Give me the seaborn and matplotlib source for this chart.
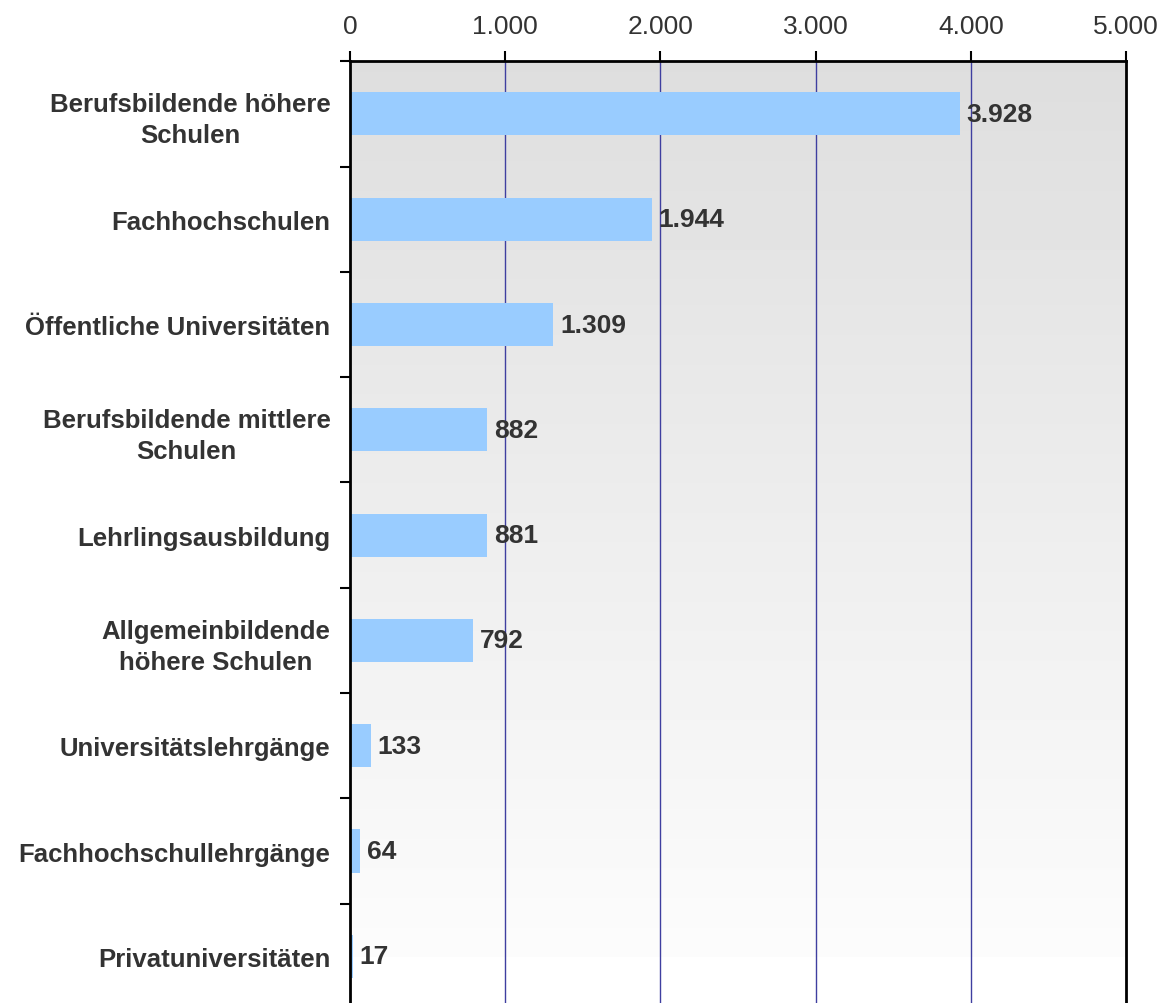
import numpy as np
import matplotlib
matplotlib.use("Agg")
import matplotlib.pyplot as plt
from matplotlib.ticker import FuncFormatter, FixedLocator
import seaborn as sns

# Daten
kategorien = [
    "Berufsbildende höhere\nSchulen",
    "Fachhochschulen",
    "Öffentliche Universitäten",
    "Berufsbildende mittlere\nSchulen",
    "Lehrlingsausbildung",
    "Allgemeinbildende\nhöhere Schulen",
    "Universitätslehrgänge",
    "Fachhochschullehrgänge",
    "Privatuniversitäten",
]
werte = [3928, 1944, 1309, 882, 881, 792, 133, 64, 17]
x_ticks = [0, 1000, 2000, 3000, 4000, 5000]


def de_format(v, pos=None):
    return f"{int(v):,}".replace(",", ".")


sns.set_theme(style="white")
plt.rcParams["font.family"] = ["Liberation Sans", "DejaVu Sans"]

fig = plt.figure(figsize=(11.68, 10.04), dpi=100)
ax = fig.add_axes([0.2997, -0.006, 0.6644, 0.944])

# Hintergrund mit Verlauf (grau oben, weiss unten)
verlauf = np.linspace(0.87, 0.995, 256).reshape(-1, 1)
verlauf[-14:] = 1.0
ax.imshow(verlauf, cmap="gray", vmin=0, vmax=1, aspect="auto",
          extent=[0, 1, 0, 1], transform=ax.transAxes, zorder=0,
          origin="upper", interpolation="nearest")

sns.barplot(x=werte, y=kategorien, orient="h", color="#99CCFF",
            saturation=1, width=0.41, linewidth=0, edgecolor="none",
            ax=ax, zorder=2)

ax.set_xlim(0, 5000)
ax.set_ylim(len(kategorien) - 0.5, -0.5)

# Gitterlinien
for t in x_ticks[1:-1]:
    ax.axvline(t, color="#3F3FA0", lw=1.0, zorder=1)

# Achse oben
ax.xaxis.tick_top()
ax.xaxis.set_major_locator(FixedLocator(x_ticks))
ax.xaxis.set_major_formatter(FuncFormatter(de_format))
ax.tick_params(axis="x", which="major", direction="out", length=7, width=1.5,
               color="black", labelsize=19, labelcolor="#333333", pad=10,
               top=True, bottom=False)

# y-Achse: Ticks zwischen den Kategorien
ax.set_yticks(np.arange(len(kategorien) + 1) - 0.5, minor=True)
ax.tick_params(axis="y", which="minor", direction="out", length=7, width=1.5,
               color="black", left=True)
ax.tick_params(axis="y", which="major", length=0, pad=14, left=False)
for lbl in ax.get_yticklabels():
    lbl.set_fontsize(18.5)
    lbl.set_fontweight("bold")
    lbl.set_color("#333333")
    lbl.set_multialignment("center")
    lbl.set_linespacing(1.35)

ax.set_xlabel("")
ax.set_ylabel("")

for side in ["left", "top", "right"]:
    ax.spines[side].set_visible(True)
    ax.spines[side].set_color("black")
    ax.spines[side].set_linewidth(2)
    ax.spines[side].set_zorder(5)
ax.spines["bottom"].set_visible(False)

# Werte an den Balken
for i, v in enumerate(werte):
    ax.annotate(de_format(v), xy=(v, i), xytext=(5, 0),
                textcoords="offset points", va="center", ha="left",
                fontsize=19, fontweight="bold", color="#333333", zorder=6)

fig.savefig("out.png", dpi=100)
